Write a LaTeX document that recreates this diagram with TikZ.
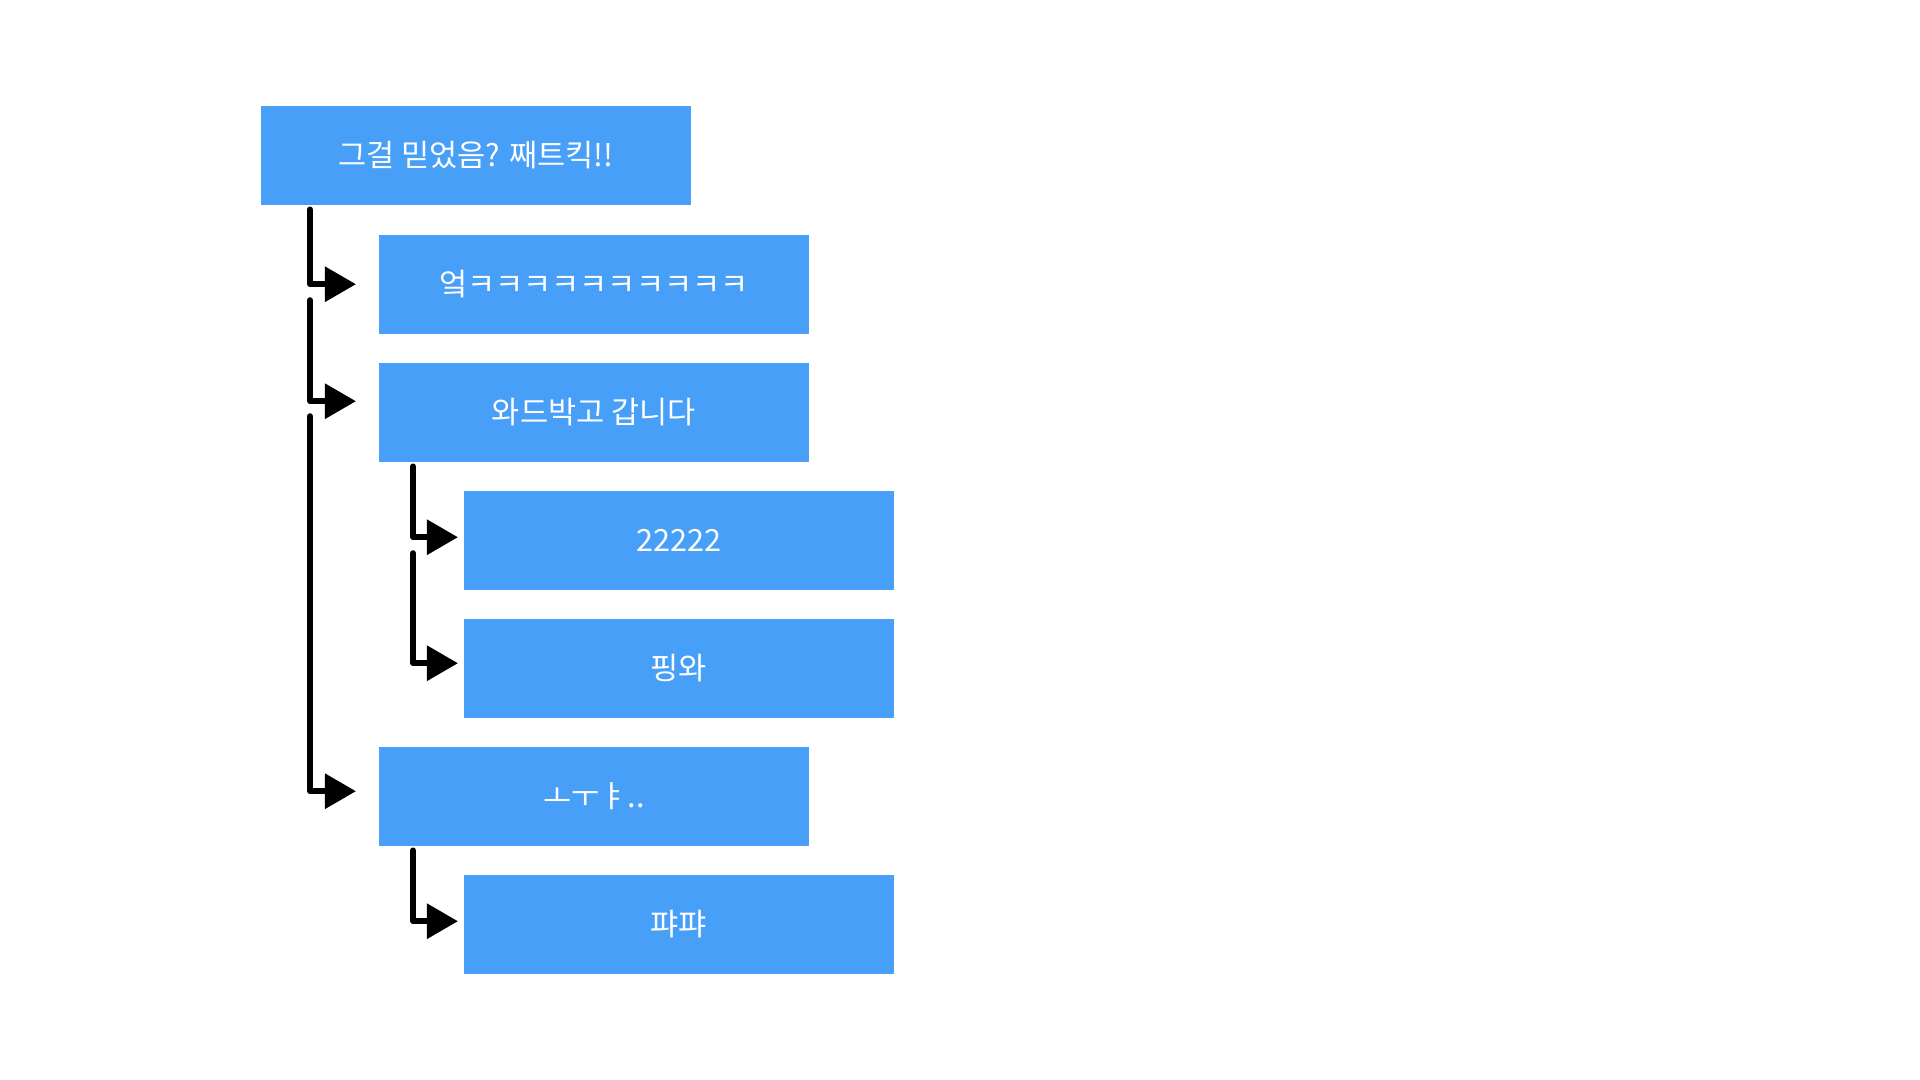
\documentclass[tikz,border=0pt]{standalone}
\usepackage{fontspec}
\setmainfont{Noto Sans CJK KR}
\usepackage{tikz}
\usetikzlibrary{arrows.meta, calc, positioning}
\tikzset{>={Triangle[length=0.31cm, width=0.34cm]}}
\definecolor{boxblue}{HTML}{489FF8}
\tikzset{
  entry/.style={fill=boxblue, text=white, anchor=north west, minimum width=4.3cm,
    minimum height=0.99cm, inner sep=0pt, font=\fontsize{8.7}{10}\selectfont},
  branch/.style={->, line width=0.06cm, line cap=round, line join=round}
}

\begin{document}
\begin{tikzpicture}[x=0.01cm, y=-0.01cm]

% Canvas
\useasboundingbox (0,0) rectangle (1920,1080);

% Boxes
\node[entry] (top)  at (260,105) {그걸 믿었음? 째트킥!!};
\node[entry] (kkk)  at (378,234) {엌ㅋㅋㅋㅋㅋㅋㅋㅋㅋㅋ};
\node[entry] (ward) at (378,362) {와드박고 갑니다};
\node[entry] (two)  at (463,490) {22222};
\node[entry] (ping) at (463,618) {핑와};
\node[entry] (oh)   at (378,746) {ㅗㅜㅑ..};
\node[entry] (pya)  at (463,874) {퍄퍄};

% First level branches
\draw[branch] ($(top.south west)+(50,4)$) |- ($(kkk.west)+(-22,0)$);
\draw[branch] ($(kkk.west)+(-68,16)$) |- ($(ward.west)+(-22,-11)$);
\draw[branch] ($(ward.west)+(-68,4)$) |- ($(oh.west)+(-22,-5)$);

% Second level branches
\draw[branch] ($(ward.south west)+(35,4)$) |- ($(two.west)+(-5,-3)$);
\draw[branch] ($(two.west)+(-50,13)$) |- ($(ping.west)+(-5,-5)$);
\draw[branch] ($(oh.south west)+(35,4)$) |- ($(pya.west)+(-5,-3)$);

\end{tikzpicture}
\end{document}
